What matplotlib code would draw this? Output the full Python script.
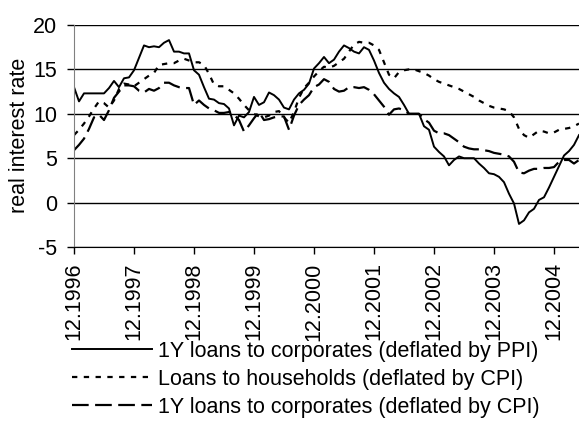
import numpy as np
import matplotlib
matplotlib.use("Agg")
import matplotlib.pyplot as plt

plt.rcParams['font.family'] = ['Liberation Sans', 'DejaVu Sans']
plt.rcParams['axes.unicode_minus'] = False

# monthly data, 12.1996 .. 5.2005
ppi_corp = [13.0, 11.4, 12.3, 12.3, 12.3, 12.3, 12.3, 12.9, 13.7, 13.0,
            14.0, 14.1, 14.9, 16.3, 17.7, 17.5, 17.6, 17.5, 18.0, 18.3,
            17.0, 17.0, 16.8, 16.8, 14.9, 14.4, 13.0, 11.7, 11.6, 11.2,
            11.1, 10.6, 8.7, 9.8, 9.6, 10.2, 11.9, 11.0, 11.3, 12.4,
            12.1, 11.6, 10.7, 10.5, 11.6, 12.3, 12.7, 13.4, 15.1, 15.7,
            16.4, 15.7, 16.1, 17.0, 17.7, 17.4, 17.0, 16.8, 17.5, 17.2,
            16.0, 14.6, 13.5, 12.8, 12.3, 11.9, 11.0, 10.0, 10.0, 10.0,
            8.6, 8.2, 6.3, 5.7, 5.2, 4.2, 4.8, 5.2, 5.0, 5.0,
            5.0, 4.4, 3.9, 3.3, 3.2, 2.9, 2.3, 1.0, -0.1, -2.4,
            -2.0, -1.1, -0.7, 0.3, 0.6, 1.7, 2.9, 4.1, 5.3, 5.8,
            6.5, 7.6]

cpi_households = [7.6, 8.2, 8.9, 9.7, 10.6, 11.4, 11.2, 10.7, 11.5, 12.8,
                  13.4, 13.3, 13.1, 13.5, 13.9, 14.3, 14.6, 15.5, 15.6, 15.7,
                  15.7, 16.0, 16.2, 16.0, 15.8, 15.8, 15.5, 14.5, 13.3, 13.1,
                  13.1, 12.7, 12.3, 11.7, 11.0, 10.4, 10.0, 9.7, 9.6, 9.8,
                  10.2, 10.3, 9.6, 9.0, 10.2, 11.8, 12.9, 13.5, 14.2, 14.8,
                  15.3, 15.2, 15.4, 15.8, 16.2, 17.0, 17.8, 18.1, 18.0, 18.0,
                  17.7, 17.2, 15.8, 14.4, 14.0, 14.7, 14.9, 15.0, 15.0, 14.8,
                  14.6, 14.3, 13.9, 13.6, 13.4, 13.2, 13.0, 12.8, 12.5, 12.2,
                  11.9, 11.5, 11.2, 10.9, 10.7, 10.6, 10.5, 10.3, 9.6, 8.3,
                  7.6, 7.3, 7.7, 8.1, 8.0, 7.8, 7.9, 8.2, 8.3, 8.4,
                  8.6, 8.9]

cpi_corp = [5.9, 6.5, 7.2, 8.3, 9.6, 9.9, 9.3, 10.4, 11.8, 12.5,
            13.2, 13.2, 13.1, 12.6, 12.4, 12.8, 12.6, 12.9, 13.5, 13.5,
            13.2, 13.0, 12.9, 12.9, 11.0, 11.5, 11.0, 10.6, 10.4, 10.1,
            10.1, 10.2, 9.9, 9.3, 8.0, 8.7, 9.5, 10.2, 9.3, 9.4,
            9.6, 9.7, 9.7, 8.2, 9.8, 11.0, 11.6, 12.1, 13.0, 13.3,
            13.9, 13.6, 12.8, 12.5, 12.6, 13.0, 13.0, 12.9, 13.0, 12.7,
            12.2, 11.5, 10.8, 9.9, 10.5, 10.6, 10.4, 10.0, 10.0, 10.0,
            9.4, 9.0, 8.1, 7.8, 7.8, 7.6, 7.2, 6.8, 6.3, 6.1,
            6.0, 6.0, 5.9, 5.8, 5.6, 5.5, 5.4, 5.2, 4.6, 3.4,
            3.3, 3.6, 3.8, 3.8, 3.9, 3.9, 4.0, 4.6, 4.8, 4.8,
            4.4, 4.8]

tick_labels = ['12.1996', '12.1997', '12.1998', '12.1999', '12.2000',
               '12.2001', '12.2002', '12.2003', '12.2004']

series_names = ['1Y loans to corporates (deflated by PPI)',
                'Loans to households (deflated by CPI)',
                '1Y loans to corporates (deflated by CPI)']

months = np.arange(len(ppi_corp))
fs = 15.5

fig = plt.figure(figsize=(5.79, 4.23), dpi=100)
ax = fig.add_axes([74 / 579, 176 / 423, 505 / 579, 222 / 423])

ax.plot(months, ppi_corp, color='black', lw=1.4, label=series_names[0])
ax.plot(months, cpi_households, color='black', lw=1.6, dashes=(2.4, 2.9),
        label=series_names[1])
ax.plot(months, cpi_corp, color='black', lw=1.6, dashes=(7.5, 2.9),
        label=series_names[2])

ax.set_xlim(0, len(months) - 1)
ax.set_ylim(-5, 20)
ax.set_yticks([-5, 0, 5, 10, 15, 20])
ax.set_xticks(months[::12])
ax.set_xticklabels(tick_labels, rotation=90, fontsize=fs)
ax.tick_params(axis='y', labelsize=fs, length=5, width=1, pad=7)
ax.tick_params(axis='x', length=5, width=1, pad=6)

ax.grid(axis='y', color='black', lw=1)
ax.set_axisbelow(True)
for s in ['top', 'right']:
    ax.spines[s].set_visible(False)
ax.spines['left'].set_color('#808080')
ax.spines['bottom'].set_color('black')

fig.text(0.034, 0.68, 'real interest rate', rotation=90, ha='center',
         va='center', fontsize=fs)

fig.legend(loc='upper left', bbox_to_anchor=(72 / 579, 1 - 341 / 423),
           frameon=False, fontsize=fs, handlelength=3.7, handletextpad=0.3,
           labelspacing=0.32, borderpad=0, borderaxespad=0)

fig.savefig('out.png', dpi=100)
